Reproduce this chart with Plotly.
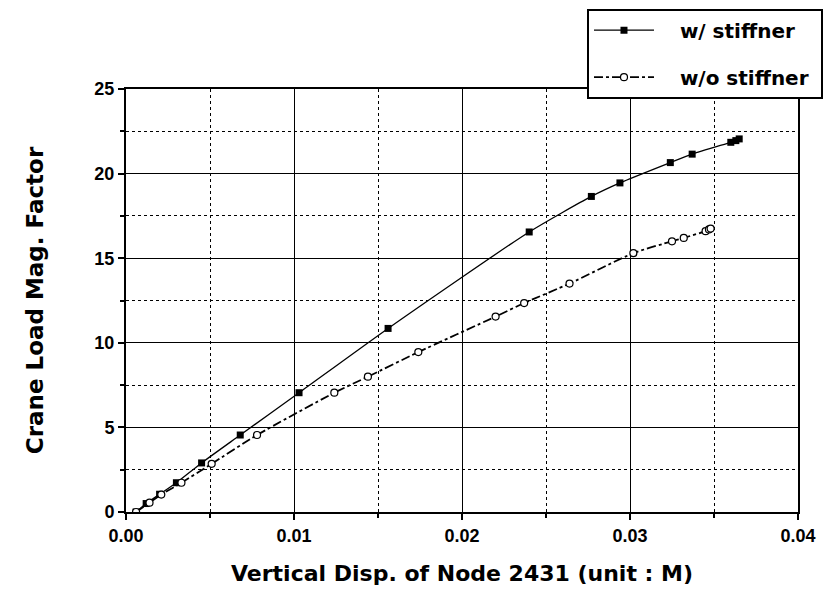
import plotly.graph_objects as go

# data
x_with = [0.0006, 0.0012, 0.0020, 0.0030, 0.0045, 0.0068, 0.0103, 0.0156, 0.0240, 0.0277,
          0.0294, 0.0324, 0.0337, 0.0360, 0.0363, 0.0365]
y_with = [0.0, 0.5, 1.05, 1.73, 2.9, 4.55, 7.05, 10.85, 16.55, 18.65,
          19.45, 20.65, 21.15, 21.85, 21.95, 22.05]

x_without = [0.0006, 0.0014, 0.0021, 0.0033, 0.0051, 0.0078, 0.0124, 0.0144, 0.0174, 0.0220,
             0.0237, 0.0264, 0.0302, 0.0325, 0.0332, 0.0345, 0.0347, 0.0348]
y_without = [0.0, 0.55, 1.03, 1.73, 2.85, 4.55, 7.05, 8.0, 9.45, 11.55,
             12.35, 13.5, 15.3, 16.0, 16.2, 16.6, 16.7, 16.75]

name_with = "w/ stiffner"
name_without = "w/o stiffner"
x_title = "Vertical Disp. of Node 2431 (unit : M)"
y_title = "Crane Load Mag. Factor"

TICK_FONT = "Liberation Sans, Arial, sans-serif"
TITLE_FONT = "DejaVu Sans, sans-serif"
NB = "\u00a0"

fig = go.Figure()
fig.add_trace(go.Scatter(
    x=x_with, y=y_with, name=NB * 3 + name_with + NB, mode="lines+markers",
    legendgroup="a",
    line=dict(color="black", width=1.3, shape="spline", smoothing=0.6),
    marker=dict(symbol="square", size=7, color="black"),
))
fig.add_trace(go.Scatter(
    x=x_without, y=y_without, name=NB * 3 + name_without + NB, mode="lines+markers",
    legendgroup="b",
    line=dict(color="black", width=1.8, dash="dashdot", shape="spline", smoothing=0.6),
    marker=dict(symbol="circle", size=7, color="white", line=dict(color="black", width=1.2)),
))

axis_common = dict(
    showline=True, linecolor="black", linewidth=2, mirror=True,
    showgrid=True, gridcolor="black", gridwidth=1,
    ticks="outside", ticklen=6, tickwidth=1.5, tickcolor="black",
    zeroline=False,
    tickfont=dict(family=TICK_FONT, size=18, color="black", weight="bold"),
)

fig.update_xaxes(
    range=[0, 0.04], dtick=0.01, tickformat=".2f",
    minor=dict(dtick=0.005, showgrid=True, griddash="dot", gridcolor="black",
               gridwidth=1, ticks="outside", ticklen=4, tickcolor="black"),
    title=dict(text=x_title, font=dict(family=TITLE_FONT, size=22, color="black", weight="bold"),
               standoff=21),
    **axis_common,
)
fig.update_yaxes(
    range=[0, 25], dtick=5,
    minor=dict(dtick=2.5, showgrid=True, griddash="dot", gridcolor="black",
               gridwidth=1, ticks="outside", ticklen=4, tickcolor="black"),
    title=dict(text=y_title, font=dict(family=TITLE_FONT, size=23, color="black", weight="bold"),
               standoff=44),
    **axis_common,
)

fig.update_layout(
    width=833, height=593,
    margin=dict(l=118, r=43, t=81, b=89, autoexpand=False),
    paper_bgcolor="white", plot_bgcolor="white",
    showlegend=True,
    legend=dict(
        x=0.686, y=1.19, xanchor="left", yanchor="top",
        bordercolor="black", borderwidth=2, bgcolor="white",
        font=dict(family=TITLE_FONT, size=20, color="black", weight="bold"),
        itemwidth=60, tracegroupgap=18,
    ),
)

fig.write_html("out.html")
